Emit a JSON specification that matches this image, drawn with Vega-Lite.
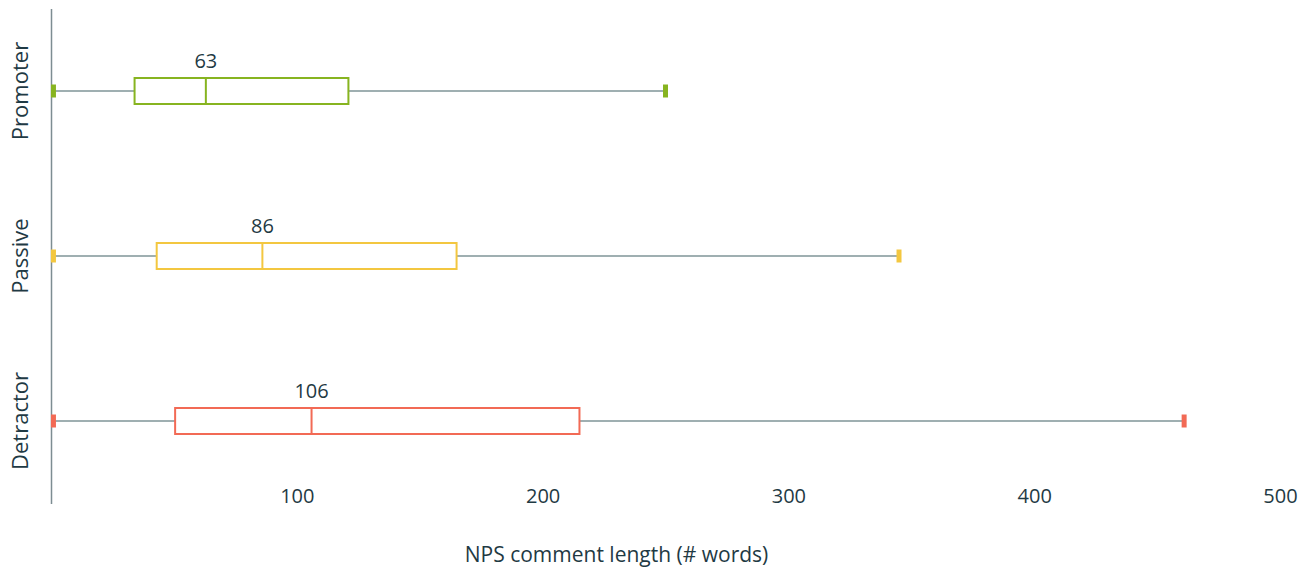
{
  "$schema": "https://vega.github.io/schema/vega-lite/v6.json",
  "width": 1229,
  "height": 481,
  "autosize": {"type": "none"},
  "padding": {"left": 51, "top": 20, "right": 33, "bottom": 71},
  "background": "white",
  "config": {"view": {"stroke": null}, "font": "Open Sans"},
  "data": {"values": [
    {"group": "Promoter", "min": 1, "q1": 34, "median": 63, "q3": 121, "max": 250},
    {"group": "Passive", "min": 1, "q1": 43, "median": 86, "q3": 165, "max": 345},
    {"group": "Detractor", "min": 1, "q1": 50.5, "median": 106, "q3": 215, "max": 461}
  ]},
  "encoding": {
    "y": {
      "field": "group", "type": "nominal",
      "sort": ["Promoter", "Passive", "Detractor"],
      "scale": {"range": [-11.5, 483.5]},
      "axis": {
        "title": null, "ticks": false, "labelAngle": -90, "labelAlign": "center", "labelBaseline": "bottom",
        "labelPadding": 19, "labelFontSize": 22, "labelColor": "#1f3a44", "labelFont": "Open Sans",
        "domainColor": "#7d8d92", "domainWidth": 1.5
      }
    }
  },
  "layer": [
    {
      "mark": {"type": "rule", "color": "#7f9497", "strokeWidth": 1.5},
      "encoding": {
        "x": {
          "field": "min", "type": "quantitative",
          "scale": {"domain": [0, 500], "nice": false, "zero": false},
          "axis": {
            "values": [100, 200, 300, 400, 500], "grid": false, "domain": false, "ticks": false,
            "labelFlush": false, "labelBound": false,
            "labelPadding": -15, "labelFontSize": 20, "labelColor": "#1f3a44", "labelFont": "Open Sans",
            "title": "NPS comment length (# words)", "titleFontSize": 21, "titleFontWeight": "normal",
            "titleColor": "#1f3a44", "titleFont": "Open Sans", "titleX": 565, "titleY": 54, "titleBaseline": "middle"
          }
        },
        "x2": {"field": "max"}
      }
    },
    {
      "mark": {"type": "bar", "fill": "white", "strokeWidth": 2, "size": 26},
      "encoding": {
        "x": {"field": "q1", "type": "quantitative"},
        "x2": {"field": "q3"},
        "stroke": {"field": "group", "type": "nominal", "scale": {"domain": ["Promoter", "Passive", "Detractor"], "range": ["#87b420", "#f3c740", "#f26a55"]}, "legend": null}
      }
    },
    {
      "mark": {"type": "tick", "thickness": 2, "size": 26, "opacity": 1},
      "encoding": {
        "x": {"field": "median", "type": "quantitative"},
        "color": {"field": "group", "type": "nominal", "scale": {"domain": ["Promoter", "Passive", "Detractor"], "range": ["#87b420", "#f3c740", "#f26a55"]}, "legend": null}
      }
    },
    {
      "mark": {"type": "tick", "thickness": 5, "size": 13, "opacity": 1},
      "encoding": {
        "x": {"field": "min", "type": "quantitative"},
        "color": {"field": "group", "type": "nominal", "legend": null}
      }
    },
    {
      "mark": {"type": "tick", "thickness": 5, "size": 13, "opacity": 1},
      "encoding": {
        "x": {"field": "max", "type": "quantitative"},
        "color": {"field": "group", "type": "nominal", "legend": null}
      }
    },
    {
      "mark": {"type": "text", "dy": -29, "fontSize": 20, "color": "#1f3a44", "font": "Open Sans"},
      "encoding": {
        "x": {"field": "median", "type": "quantitative"},
        "text": {"field": "median", "type": "quantitative"}
      }
    }
  ]
}
